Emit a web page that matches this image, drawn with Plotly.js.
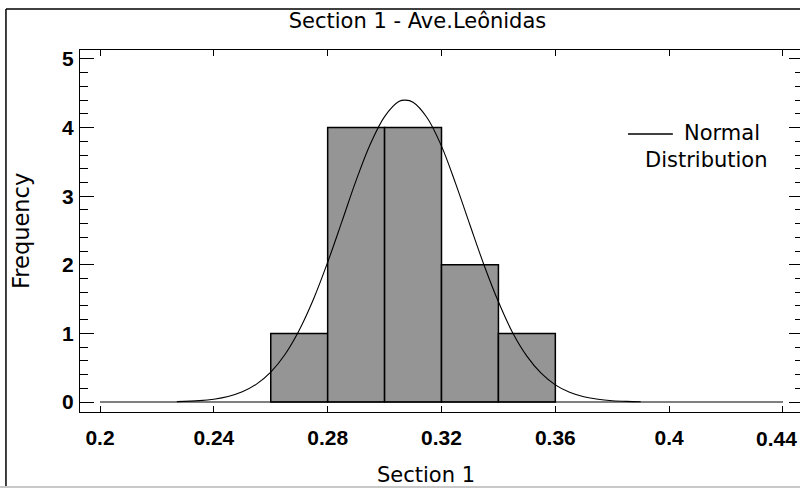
<!DOCTYPE html>
<html>
<head>
<meta charset="utf-8">
<script src="https://cdn.plot.ly/plotly-3.0.1.min.js"></script>
<style>
  html, body { margin: 0; padding: 0; background: #fff; overflow: hidden; }
  #chart { width: 806px; height: 489px; }
</style>
</head>
<body>
<div id="chart"></div>
<script>
// Histogram bins (left edges) and counts
const binEdges = [0.20, 0.22, 0.24, 0.26, 0.28, 0.30, 0.32, 0.34, 0.36, 0.38, 0.40, 0.42, 0.44];
const counts   = [0, 0, 0, 1, 4, 4, 2, 1, 0, 0, 0, 0];
const binWidth = 0.02;

// Fitted normal curve
const normX = [0.227, 0.235, 0.240, 0.245, 0.250, 0.255, 0.260, 0.265, 0.270, 0.275, 0.280, 0.285,
               0.290, 0.295, 0.300, 0.305, 0.3073, 0.310, 0.315, 0.320, 0.325, 0.330, 0.335, 0.340,
               0.345, 0.350, 0.355, 0.360, 0.365, 0.370, 0.375, 0.380, 0.385, 0.390];
const normY = [0.006, 0.020, 0.041, 0.080, 0.148, 0.261, 0.436, 0.693, 1.046, 1.497, 2.037, 2.63,
               3.23, 3.76, 4.16, 4.38, 4.40, 4.37, 4.14, 3.73, 3.18, 2.58, 1.99, 1.46,
               1.01, 0.669, 0.42, 0.25, 0.141, 0.076, 0.039, 0.019, 0.009, 0.004];

const xTicks = [0.2, 0.24, 0.28, 0.32, 0.36, 0.4, 0.44];
const yTicks = [0, 1, 2, 3, 4, 5];

const titleText = 'Section 1 - Ave.Leônidas';
const xTitle = 'Section 1';
const yTitle = 'Frequency';
const legendText1 = 'Normal';
const legendText2 = 'Distribution';

// Bars (nonzero bins)
const barX = [], barY = [];
counts.forEach((c, i) => { if (c > 0) { barX.push(binEdges[i]); barY.push(c); } });

// zero-count bins drawn as flat lines at 0
const zeroX = [binEdges[0], binEdges[binEdges.length - 1]];
const zeroY = [0, 0];

const titleFont = { family: 'DejaVu Sans, Arial, sans-serif', size: 21, color: '#000' };
const tickFont = { family: 'Liberation Sans, Arial, sans-serif', size: 21, color: '#000', weight: 'bold' };

// last x tick label sits at the right edge; it is drawn right-aligned so it stays inside the picture
const lastTick = xTicks[xTicks.length - 1];
const xTickText = xTicks.map((v, i) => i === xTicks.length - 1 ? '' : String(v));

const traces = [
  { type: 'scatter', mode: 'lines', x: zeroX, y: zeroY,
    line: { color: '#000', width: 1 }, hoverinfo: 'skip', showlegend: false },
  { type: 'bar', x: barX, y: barY, width: binWidth, offset: 0,
    marker: { color: '#959595', line: { color: '#000', width: 1.5 } }, showlegend: false },
  { type: 'scatter', mode: 'lines', x: normX, y: normY,
    line: { color: '#000', width: 1.1, shape: 'spline' }, showlegend: false }
];

const layout = {
  width: 806, height: 489,
  margin: { l: 80, r: 3, t: 50, b: 77 },
  paper_bgcolor: '#fff', plot_bgcolor: '#fff',
  title: { text: titleText, font: titleFont, xref: 'container', x: 0.518, xanchor: 'center',
           yref: 'container', y: 0.958, yanchor: 'middle' },
  xaxis: {
    range: [0.19297, 0.44703], tickvals: xTicks, ticktext: xTickText,
    ticks: 'inside', ticklen: 6, tickwidth: 1, tickcolor: '#000',
    showline: true, linecolor: '#000', linewidth: 1, mirror: 'ticks',
    showgrid: false, zeroline: false, tickfont: tickFont, ticklabelstandoff: 7
  },
  yaxis: {
    range: [-0.1458, 5.131], tickvals: yTicks, ticktext: yTicks.map(String),
    ticks: 'inside', ticklen: 14, tickwidth: 1, tickcolor: '#000',
    minor: { dtick: 0.2, tick0: 0, ticks: 'inside', ticklen: 8, tickcolor: '#000', tickwidth: 1, showgrid: false },
    showline: true, linecolor: '#000', linewidth: 1, mirror: 'ticks',
    showgrid: false, zeroline: false, tickfont: tickFont, ticklabelstandoff: 1
  },
  shapes: [
    { type: 'line', xref: 'paper', yref: 'paper', x0: -0.1024, x1: -0.1024, y0: -0.207, y1: 1.1133,
      line: { color: '#000', width: 1.5 } },
    { type: 'line', xref: 'paper', yref: 'paper', x0: -0.1024, x1: 1.05, y0: 1.1133, y1: 1.1133,
      line: { color: '#000', width: 1.5 } },
    { type: 'line', xref: 'paper', yref: 'paper', x0: -0.12, x1: 1.05, y0: -0.207, y1: -0.207,
      line: { color: '#c8c8c8', width: 2 } },
    { type: 'line', xref: 'paper', yref: 'paper', x0: 0.758, x1: 0.820, y0: 0.768, y1: 0.768,
      line: { color: '#000', width: 1.5 } }
  ],
  annotations: [
    { text: String(lastTick), xref: 'paper', yref: 'paper', x: 0.9945, y: -0.072, xanchor: 'right', yanchor: 'middle',
      showarrow: false, font: tickFont },
    { text: legendText1, xref: 'paper', yref: 'paper', x: 0.8326, y: 0.771, xanchor: 'left', yanchor: 'middle',
      showarrow: false, font: titleFont },
    { text: legendText2, xref: 'paper', yref: 'paper', x: 0.7787, y: 0.696, xanchor: 'left', yanchor: 'middle',
      showarrow: false, font: titleFont },
    { text: xTitle, xref: 'paper', yref: 'paper', x: 0.4786, y: -0.1754, xanchor: 'center', yanchor: 'middle',
      showarrow: false, font: titleFont },
    { text: yTitle, xref: 'paper', yref: 'paper', x: -0.0816, y: 0.5, xanchor: 'center', yanchor: 'middle',
      textangle: -90, showarrow: false, font: Object.assign({}, titleFont, { size: 22.5 }) }
  ],
  showlegend: false,
  bargap: 0
};

Plotly.newPlot('chart', traces, layout, { displayModeBar: false, staticPlot: true });
</script>
</body>
</html>
